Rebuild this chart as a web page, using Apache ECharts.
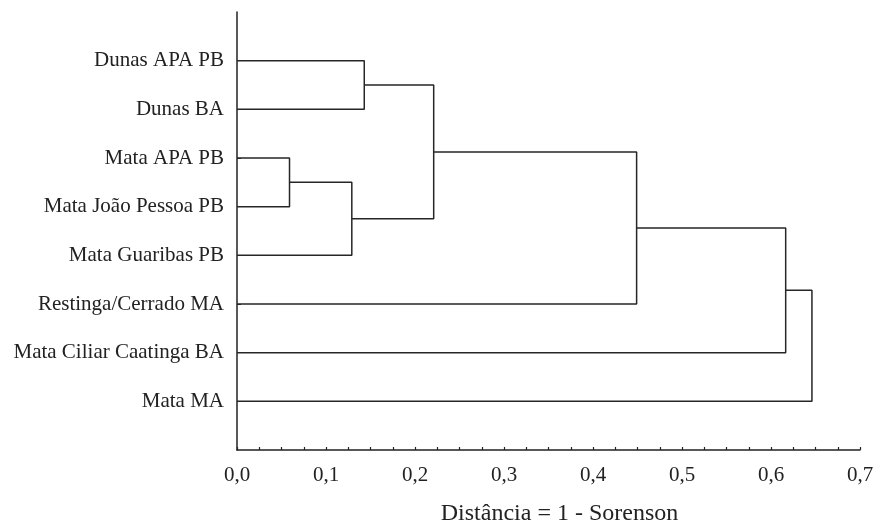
<!DOCTYPE html>
<html>
  <head>
    <meta charset="utf-8">
    <title>Dendrograma - Distância = 1 - Sorenson</title>
    <script src="https://cdn.jsdelivr.net/npm/echarts@6/dist/echarts.min.js"></script>
    <style type="text/css">
      html, body { margin: 0; padding: 0; background: #fff; }
      #main { width: 875px; height: 525px; }
    </style>
  </head>
  <body>
    <div id="main"></div>
    <script type="text/javascript">
      // folhas, de cima para baixo
      var leaves = ["Dunas APA PB", "Dunas BA", "Mata APA PB", "Mata João Pessoa PB",
                    "Mata Guaribas PB", "Restinga/Cerrado MA", "Mata Ciliar Caatinga BA", "Mata MA"];
      // fusões: nó esquerdo, nó direito (índices >= 8 são grupos já formados)
      var mergeLeft  = [2, 8, 0, 10, 11, 12, 13];
      var mergeRight = [3, 4, 1, 9, 5, 6, 7];
      var mergeHeight = [0.059, 0.129, 0.143, 0.221, 0.449, 0.6165, 0.646];
      var xTicks = [0, 0.1, 0.2, 0.3, 0.4, 0.5, 0.6, 0.7];

      var myChart = echarts.init(document.getElementById('main'));

      // posição (x = distância, y = ordem) de cada nó
      var nodeX = [], nodeY = [];
      for (var i = 0; i < leaves.length; i++) {
        nodeX.push(0);
        nodeY.push(i);
      }
      var series = [];
      for (var k = 0; k < mergeHeight.length; k++) {
        var a = mergeLeft[k], b = mergeRight[k], h = mergeHeight[k];
        series.push({
          type: 'line',
          symbol: 'none',
          silent: true,
          lineStyle: { color: '#262626', width: 1.5 },
          data: [[nodeX[a], nodeY[a]], [h, nodeY[a]], [h, nodeY[b]], [nodeX[b], nodeY[b]]]
        });
        nodeX.push(h);
        nodeY.push((nodeY[a] + nodeY[b]) / 2);
      }

      var option = {
        animation: false,
        grid: { left: 237, right: 15, top: 12, bottom: 75, outerBoundsMode: 'none' },
        xAxis: {
          type: 'value',
          min: 0,
          max: 0.7,
          interval: 0.1,
          name: 'Distância = 1 - Sorenson',
          nameLocation: 'middle',
          nameGap: 52,
          nameTextStyle: { fontFamily: 'Liberation Serif', fontSize: 24, color: '#222', padding: [0, 0, 0, 22] },
          axisLine: { onZero: false, lineStyle: { color: '#222', width: 1.5 } },
          axisTick: { inside: true, length: 3, lineStyle: { color: '#222', width: 1.2 } },
          minorTick: { show: true, splitNumber: 4, length: 3, lineStyle: { color: '#222', width: 1.2 } },
          splitLine: { show: false },
          axisLabel: {
            margin: 15,
            fontFamily: 'Liberation Serif',
            fontSize: 21,
            color: '#222',
            customValues: xTicks,
            formatter: function (v) { return v.toFixed(1).replace('.', ','); }
          }
        },
        yAxis: {
          type: 'value',
          inverse: true,
          min: -1,
          max: 8,
          axisLine: { show: true, onZero: false, lineStyle: { color: '#222', width: 1.5 } },
          axisTick: {
            show: true, inside: true, length: 4,
            customValues: [0, 1, 2, 3, 4, 5, 6, 7],
            lineStyle: { color: '#222' }
          },
          splitLine: { show: false },
          axisLabel: {
            margin: 13,
            fontFamily: 'Liberation Serif',
            fontSize: 21,
            color: '#222',
            customValues: [0, 1, 2, 3, 4, 5, 6, 7],
            formatter: function (v) { return leaves[Math.round(v)]; }
          }
        },
        series: series
      };

      myChart.setOption(option);
    </script>
  </body>
</html>
